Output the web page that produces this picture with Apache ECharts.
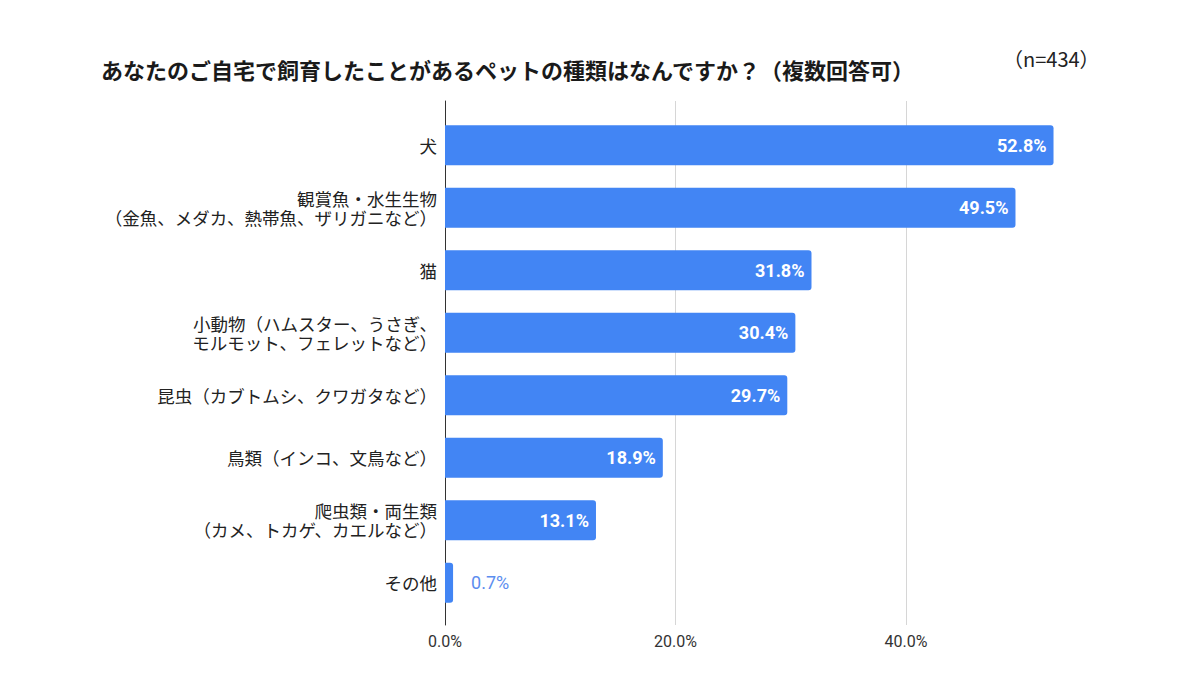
<!DOCTYPE html>
<html lang="ja">
<head>
    <meta charset="UTF-8">
    <title>ペットの種類</title>
    <script src="https://cdn.jsdelivr.net/npm/echarts@6/dist/echarts.min.js"></script>
    <style type="text/css">
        html, body {
            margin: 0;
            height: 100%;
            background: #fff;
        }
    </style>
</head>
<body>

<div id="main" style="width: 1200px;height:700px;"></div>

<script>
    const categories = [
        '犬',
        '観賞魚・水生生物\n（金魚、メダカ、熱帯魚、ザリガニなど）',
        '猫',
        '小動物（ハムスター、うさぎ、\nモルモット、フェレットなど）',
        '昆虫（カブトムシ、クワガタなど）',
        '鳥類（インコ、文鳥など）',
        '爬虫類・両生類\n（カメ、トカゲ、カエルなど）',
        'その他'
    ];
    const values = [52.8, 49.5, 31.8, 30.4, 29.7, 18.9, 13.1, 0.7];
    const xTicks = [0, 20, 40];

    const font = '"Noto Sans CJK JP", "Noto Sans", sans-serif';
    const gridColor = '#d6d6d6';

    const myChart = echarts.init(document.getElementById('main'), null, {renderer: 'svg'});
    const option = {
        animation: false,
        textStyle: {fontFamily: font},
        title: [{
            text: 'あなたのご自宅で飼育したことがあるペットの種類はなんですか？（複数回答可）',
            left: 96,
            top: 53,
            textStyle: {fontSize: 22, fontWeight: 'bold', color: '#1a1a1a', fontFamily: font}
        }, {
            text: '（n=434）',
            left: 998,
            top: 43,
            textStyle: {fontSize: 20, fontWeight: 'normal', color: '#222', fontFamily: font}
        }],
        // grid 0 holds the bars, grid 1 the longer gridlines and axis line
        grid: [{
            left: 445,
            right: 63.5,
            top: 114,
            bottom: 86
        }, {
            left: 445,
            right: 63.5,
            top: 101,
            bottom: 75
        }],
        xAxis: [{
            type: 'value',
            gridIndex: 0,
            min: 0,
            max: 60,
            interval: 20,
            axisLine: {show: false},
            axisTick: {show: false},
            axisLabel: {show: false},
            splitLine: {show: false}
        }, {
            type: 'value',
            gridIndex: 1,
            min: 0,
            max: 60,
            interval: 20,
            axisLine: {show: false},
            axisTick: {show: false},
            axisLabel: {
                color: '#333',
                fontSize: 16,
                margin: 8,
                fontFamily: 'Roboto, sans-serif',
                formatter: function (v) {
                    return xTicks.indexOf(v) >= 0 ? v.toFixed(1) + '%' : '';
                }
            },
            splitLine: {
                lineStyle: {color: [gridColor, gridColor, gridColor, 'rgba(0,0,0,0)'], width: 1}
            }
        }],
        yAxis: [{
            type: 'category',
            gridIndex: 0,
            inverse: true,
            data: categories,
            axisLine: {show: false},
            axisTick: {show: false},
            axisLabel: {
                color: '#222',
                fontSize: 17.5,
                lineHeight: 19,
                margin: 8,
                align: 'right',
                fontFamily: font
            }
        }, {
            type: 'value',
            gridIndex: 1,
            min: 0,
            max: 1,
            axisLine: {show: true, lineStyle: {color: '#333', width: 1}},
            axisTick: {show: false},
            axisLabel: {show: false},
            splitLine: {show: false}
        }],
        series: [{
            type: 'bar',
            xAxisIndex: 0,
            yAxisIndex: 0,
            z: 3,
            data: values.map(function (v) {
                const small = v < 5;
                return {
                    value: v,
                    label: small ? {
                        position: 'right',
                        color: '#5b8def',
                        fontWeight: 'normal',
                        distance: 18
                    } : {}
                };
            }),
            barWidth: 40,
            itemStyle: {
                color: '#4285f4',
                borderRadius: [0, 3, 3, 0]
            },
            label: {
                show: true,
                position: 'insideRight',
                distance: 7,
                color: '#fff',
                fontSize: 18,
                fontWeight: 'bold',
                fontFamily: 'Roboto, sans-serif',
                formatter: function (p) {
                    return p.value.toFixed(1) + '%';
                }
            }
        }]
    };

    myChart.setOption(option);

    window.addEventListener("resize", function () {
        myChart.resize();
    });
</script>
</body>
</html>
